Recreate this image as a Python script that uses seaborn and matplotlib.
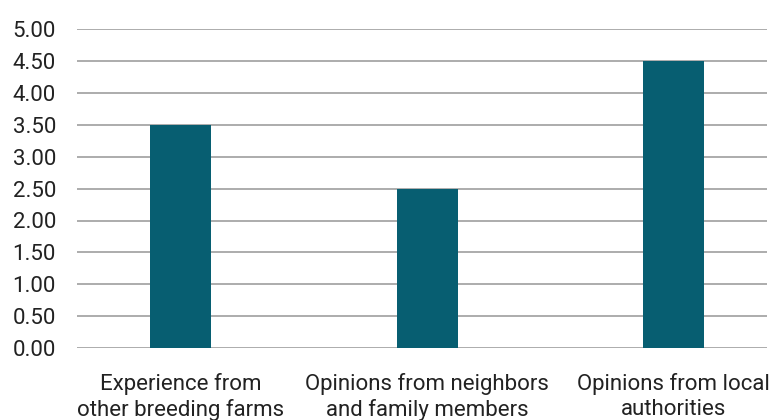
import matplotlib
matplotlib.use("Agg")
import matplotlib.pyplot as plt
import seaborn as sns
import pandas as pd

categories = ["Experience from\nother breeding farms",
              "Opinions from neighbors\nand family members",
              "Opinions from local\nauthorities"]
values = [3.5, 2.5, 4.5]
yticks = [0, 0.5, 1, 1.5, 2, 2.5, 3, 3.5, 4, 4.5, 5]

df = pd.DataFrame({"source": categories, "score": values})

sns.set_style("white")
plt.rcParams["font.family"] = ["Roboto", "DejaVu Sans"]

fig = plt.figure(figsize=(7.76, 4.2), dpi=100)
ax = fig.add_axes([0.099, 0.171, 0.889, 0.76])

sns.barplot(data=df, x="source", y="score", color="#075e71", width=0.247,
            saturation=1, linewidth=0, ax=ax, zorder=3)

ax.set_ylim(0, 5)
ax.set_xlim(-0.422, 2.377)
ax.set_yticks(yticks)
ax.set_yticklabels([f"{v:.2f}" for v in yticks])
ax.yaxis.grid(True, color="#a6a6a6", linewidth=1.3, zorder=0)
ax.set_axisbelow(True)
for s in ax.spines.values():
    s.set_visible(False)
ax.tick_params(axis="y", length=0, pad=15, labelsize=16, labelcolor="#222222")
ax.tick_params(axis="x", length=0, pad=18, labelsize=16, labelcolor="#222222")
for t in ax.get_xticklabels():
    t.set_linespacing(1.25)
ax.set_xlabel("")
ax.set_ylabel("")

fig.savefig("out.png", dpi=100)
